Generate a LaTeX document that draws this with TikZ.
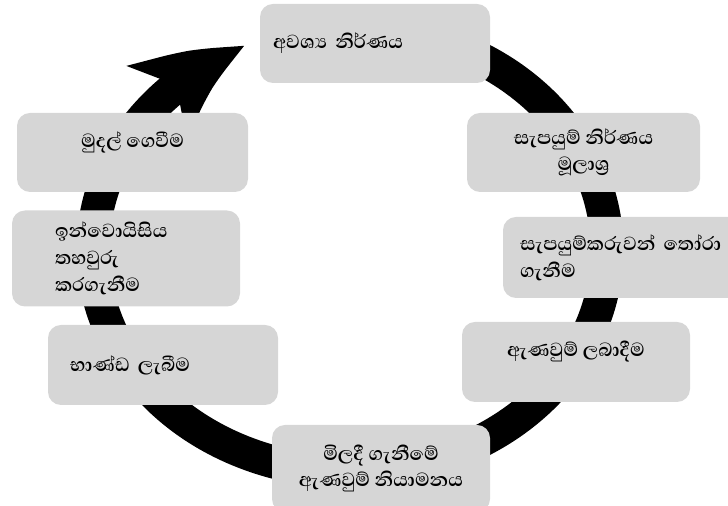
\documentclass[tikz,border=0pt]{standalone}
\usepackage{fontspec}
\newfontfamily\sinhalafont[Script=Sinhala]{Abhaya Libre}
\usetikzlibrary{arrows.meta,bending}
\definecolor{stagegray}{RGB}{214,214,214}

\begin{document}
\begin{tikzpicture}[
    stage/.style={fill=stagegray, rounded corners=0.13cm, inner xsep=0.13cm,
      minimum height=0.8cm, font=\sinhalafont\bfseries\fontsize{6.9}{7.6}\selectfont},
    cycle/.style={line width=9.4pt, -{Stealth[length=1.05cm, width=0.9cm, inset=0.25cm, bend]}}
  ]
  \useasboundingbox (0,0) rectangle (7.28,5.06);
  \clip (0,0) rectangle (7.28,5.06);
  % the ring, clockwise, ending at the first step
  \coordinate (c) at (3.5,2.56);
  \draw[cycle] ([shift={(70:2.57cm and 2.22cm)}]c)
    arc[start angle=70, end angle=-246, x radius=2.57cm, y radius=2.22cm];
  % the steps
  \node[stage, text width=2.04cm, align=left, minimum height=0.79cm] (need) at (3.75,4.625) {අවශ්^^^^200dය නිර්ණය};
  \node[stage, align=center, minimum width=2.33cm, minimum height=0.79cm] (source) at (5.835,3.535) {සැපයුම් නිර්ණය\\මූලාශ්^^^^200dර};
  \node[stage, text width=2.2cm, inner xsep=0.17cm, align=left, minimum height=0.81cm] (select) at (6.3,2.485) {සැපයුම්කරුවන් තෝරා\\ගැනීම};
  \node[stage, align=center, minimum width=2.28cm, text depth=0.26cm] (order) at (5.76,1.44) {ඇණවුම් ලබාදීම};
  \node[stage, align=center, minimum width=2.18cm, minimum height=0.87cm] (control) at (3.81,0.375) {මිලදී ගැනීමේ\\ඇණවුම් නියාමනය};
  \node[stage, text width=1.86cm, inner xsep=0.22cm, align=left] (goods) at (1.63,1.41) {භාණ්ඩ ලැබීම};
  \node[stage, text width=1.42cm, inner xsep=0.43cm, align=left, minimum height=0.83cm] (invoice) at (1.26,2.475) {ඉන්වොයිසිය\\තහවුරු\\කරගැනීම};
  \node[stage, align=center, minimum width=2.31cm, minimum height=0.79cm, text depth=0.26cm] (pay) at (1.325,3.535) {මුදල් ගෙවීම};
\end{tikzpicture}
\end{document}
